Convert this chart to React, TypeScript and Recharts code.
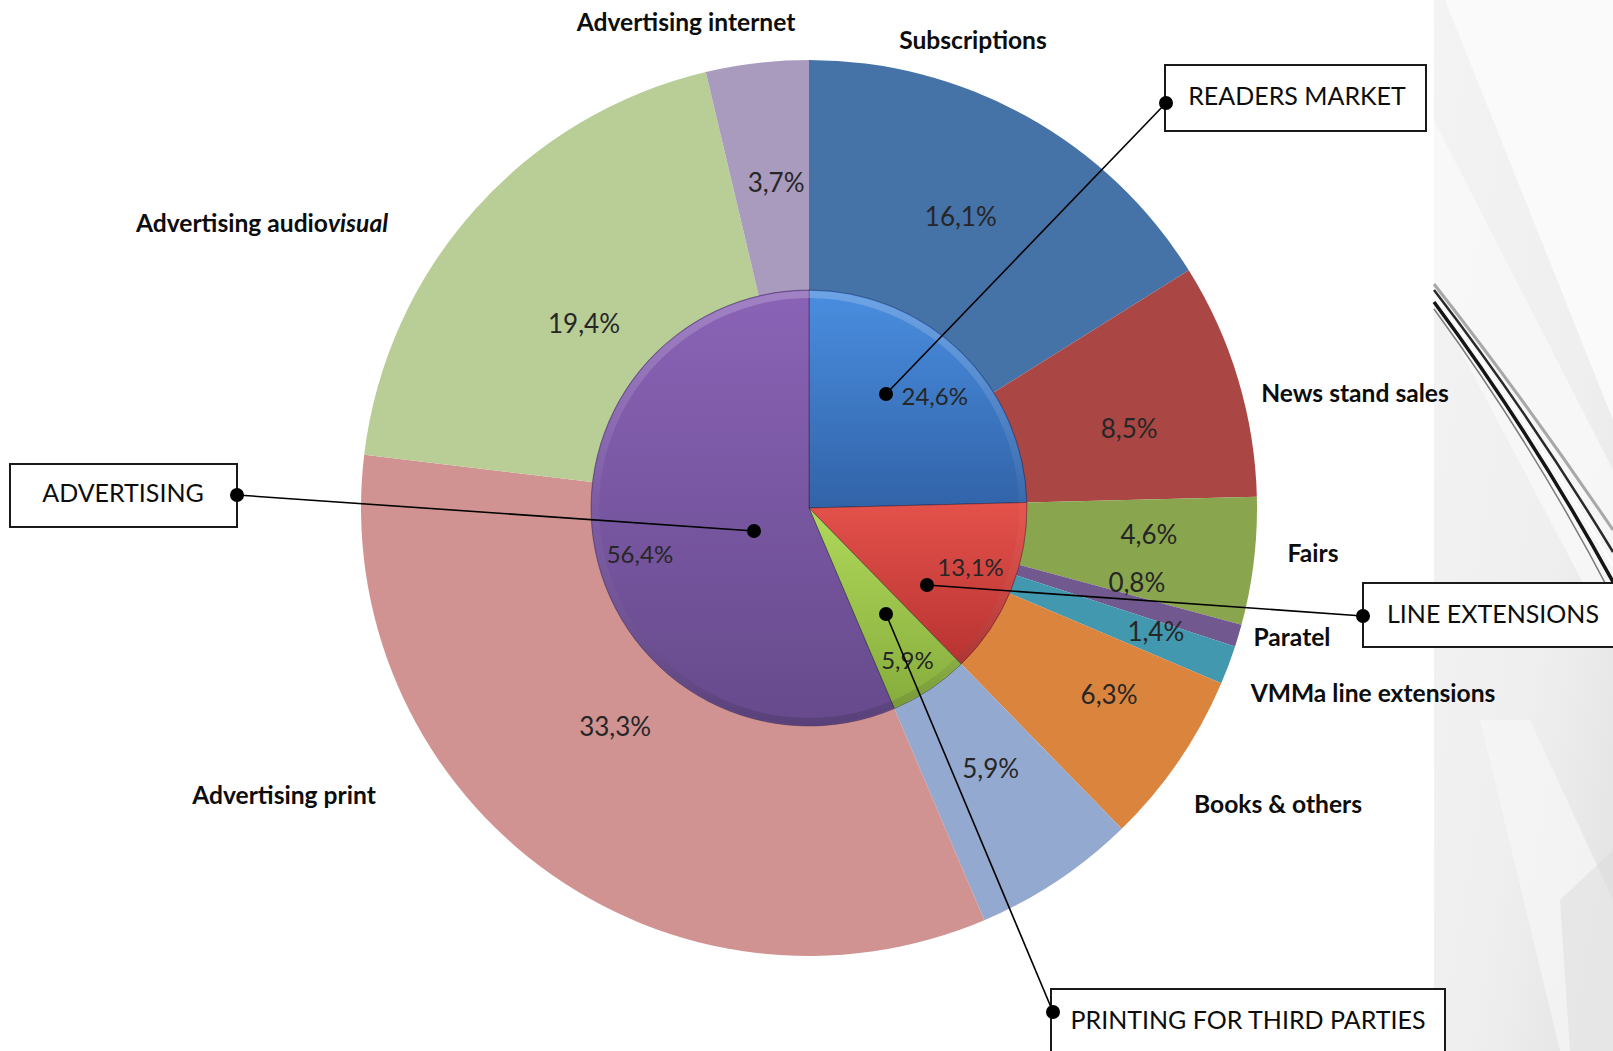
import React from 'react';
import { PieChart, Pie, Cell } from 'recharts';

// ---------- DATA ----------
const outerNames = [
  'Subscriptions',
  'News stand sales',
  'Fairs',
  'Paratel',
  'VMMa line extensions',
  'Books & others',
  'Printing for third parties',
  'Advertising print',
  'Advertising audiovisual',
  'Advertising internet',
];
const outerValues = [16.1, 8.5, 4.6, 0.8, 1.4, 6.3, 5.9, 33.3, 19.4, 3.7];

const innerNames = ['Readers market', 'Line extensions', 'Printing for third parties', 'Advertising'];
const innerValues = [24.6, 13.1, 5.9, 56.4];

const calloutTexts = ['READERS MARKET', 'ADVERTISING', 'LINE EXTENSIONS', 'PRINTING FOR THIRD PARTIES'];

// ---------- STYLE / LAYOUT ----------
const outerColors = ['#4572A7', '#AA4643', '#89A54E', '#71588F', '#4198AF', '#DB843D', '#93A9CF', '#D19392', '#B9CD96', '#A99BBD'];
const innerGradIds = ['gBlue', 'gRed', 'gGreen', 'gPurple'];

const W = 1613;
const H = 1051;
const CX = 809;
const CY = 508;
const R_OUT = 448;
const R_IN = 218;

// label radius and angle tweak (relative to the slice's mid angle)
const outerLabelAdj: [number, number][] = [
  [329, 1.5], [330, -2.7], [341, 2.4], [336, 3.9], [368, 1], [353, 2.6], [317, 1.3], [292, -4.7], [291, 2.4], [328, -0.9],
];
const innerLabelAdj: [number, number][] = [
  [169, -3.8], [172, 2.1], [181, -0.7], [175, 3.4],
];

// category label anchors (centre x, baseline y)
const categoryPos: Record<string, [number, number]> = {
  'Subscriptions': [973, 49],
  'News stand sales': [1355, 402],
  'Fairs': [1313, 562],
  'Paratel': [1292, 646],
  'VMMa line extensions': [1373, 702],
  'Books & others': [1278, 813],
  'Advertising print': [284, 804],
  'Advertising audiovisual': [262, 232],
  'Advertising internet': [686, 31],
};

// callouts: box [x, y, w, h], text [x, baseline], line from box dot to inner dot
const callouts = [
  { box: [1165, 65, 261, 66], text: [1297, 105], dotA: [1166, 103], dotB: [886, 394] },
  { box: [10, 464, 227, 63], text: [123, 502], dotA: [237, 495], dotB: [754, 531] },
  { box: [1363, 583, 270, 64], text: [1493, 623], dotA: [1363, 616], dotB: [927, 585] },
  { box: [1051, 989, 394, 80], text: [1248, 1029], dotA: [1053, 1012], dotB: [886, 614] },
];

const FONT = 'Lato, "Open Sans", sans-serif';
const RAD = Math.PI / 180;
const fmt = (v: number) => v.toFixed(1).replace('.', ',');

const outerData = outerNames.map((name, i) => ({ name, value: outerValues[i] }));
const innerData = innerNames.map((name, i) => ({ name, value: innerValues[i] }));

function makeLabel(adj: [number, number][], fontSize: number) {
  return (props: any) => {
    const { cx, cy, midAngle, index, value } = props;
    const [r, d] = adj[index] ?? [330, 0];
    const a = (midAngle + d) * RAD;
    const x = cx + r * Math.cos(a);
    const y = cy - r * Math.sin(a);
    return (
      <text
        key={`l-${index}`}
        x={x}
        y={y}
        textAnchor="middle"
        dominantBaseline="central"
        fill="#262626"
        fontSize={fontSize}
        fontFamily={FONT}
      >
        {fmt(Number(value))}%
      </text>
    );
  };
}

function Background() {
  return (
    <svg width={W} height={H} style={{ position: 'absolute', left: 0, top: 0 }}>
      <defs>
        <linearGradient id="panelGrad" x1="0" y1="0" x2="1" y2="1">
          <stop offset="0" stopColor="#f3f3f3" />
          <stop offset="0.6" stopColor="#efefef" />
          <stop offset="1" stopColor="#e2e2e2" />
        </linearGradient>
        <linearGradient id="gBlue" x1="0" y1="0" x2="0" y2="1">
          <stop offset="0" stopColor="#4a8ee0" />
          <stop offset="1" stopColor="#3163a8" />
        </linearGradient>
        <linearGradient id="gRed" x1="0" y1="0" x2="0" y2="1">
          <stop offset="0" stopColor="#e4514b" />
          <stop offset="1" stopColor="#b83331" />
        </linearGradient>
        <linearGradient id="gGreen" x1="0" y1="0" x2="0" y2="1">
          <stop offset="0" stopColor="#b0d85a" />
          <stop offset="1" stopColor="#86ad3c" />
        </linearGradient>
        <linearGradient id="gPurple" x1="0" y1="0" x2="0" y2="1">
          <stop offset="0" stopColor="#8a63b6" />
          <stop offset="1" stopColor="#664a8c" />
        </linearGradient>
        <linearGradient id="rimGrad" x1="0" y1="0" x2="0" y2="1">
          <stop offset="0" stopColor="#ffffff" stopOpacity="0.2" />
          <stop offset="0.5" stopColor="#ffffff" stopOpacity="0.03" />
          <stop offset="1" stopColor="#000000" stopOpacity="0.14" />
        </linearGradient>
      </defs>
      <rect x={1434} y={0} width={W - 1434} height={H} fill="url(#panelGrad)" />
      <polygon points="1445,0 1613,0 1613,420" fill="#fbfbfb" opacity={0.9} />
      <polygon points="1434,120 1434,300 1613,640 1613,470" fill="#f9f9f9" opacity={0.8} />
      <polygon points="1480,720 1530,720 1613,900 1613,1051 1560,1051" fill="#f7f7f7" opacity={0.7} />
      <polygon points="1560,900 1613,850 1613,1051 1570,1051" fill="#dcdcdc" opacity={0.5} />
      <path d="M1434,284 Q1525,400 1613,530" stroke="#a8a8a8" strokeWidth={3} fill="none" />
      <path d="M1434,290 Q1528,412 1613,552" stroke="#2a2a2a" strokeWidth={2.5} fill="none" />
      <path d="M1434,296 Q1530,422 1613,566" stroke="#ffffff" strokeWidth={2} fill="none" />
      <path d="M1434,302 Q1532,434 1613,582" stroke="#151515" strokeWidth={3.5} fill="none" />
      <path d="M1434,309 Q1535,447 1613,598" stroke="#7a7a7a" strokeWidth={1.5} fill="none" />
    </svg>
  );
}

function CategoryLabel({ name }: { name: string }) {
  const pos = categoryPos[name];
  if (!pos) return null;
  const common = {
    x: pos[0],
    y: pos[1],
    textAnchor: 'middle' as const,
    fontFamily: FONT,
    fontWeight: 700,
    fontSize: 24.6,
    fill: '#0d0d0d',
  };
  if (name === 'Advertising audiovisual') {
    return (
      <text {...common}>
        Advertising audio<tspan fontStyle="italic">visual</tspan>
      </text>
    );
  }
  return <text {...common}>{name}</text>;
}

function Overlay() {
  return (
    <svg width={W} height={H} style={{ position: 'absolute', left: 0, top: 0, pointerEvents: 'none' }}>
      {outerNames.map((n) => (
        <CategoryLabel key={n} name={n} />
      ))}
      {callouts.map((c, i) => (
        <g key={i}>
          <rect x={c.box[0]} y={c.box[1]} width={c.box[2]} height={c.box[3]} fill="#fff" stroke="#1a1a1a" strokeWidth={2} />
          <text x={c.text[0]} y={c.text[1]} textAnchor="middle" fontFamily={FONT} fontSize={25} fill="#0d0d0d">
            {calloutTexts[i]}
          </text>
          <line x1={c.dotA[0]} y1={c.dotA[1]} x2={c.dotB[0]} y2={c.dotB[1]} stroke="#000" strokeWidth={1.6} />
          <circle cx={c.dotA[0]} cy={c.dotA[1]} r={7} fill="#000" />
          <circle cx={c.dotB[0]} cy={c.dotB[1]} r={7} fill="#000" />
        </g>
      ))}
    </svg>
  );
}

export default function App() {
  return (
    <div style={{ position: 'absolute', left: 0, top: 0, width: W, height: H, overflow: 'hidden', background: '#fff' }}>
      <Background />
      <div style={{ position: 'absolute', left: 0, top: 0 }}>
        <PieChart width={W} height={H} margin={{ top: 0, right: 0, bottom: 0, left: 0 }}>
          <Pie
            data={outerData}
            dataKey="value"
            nameKey="name"
            cx={CX}
            cy={CY}
            outerRadius={R_OUT}
            innerRadius={0}
            startAngle={90}
            endAngle={-270}
            stroke="none"
            label={makeLabel(outerLabelAdj, 26)}
            labelLine={false}
            isAnimationActive={false}
          >
            {outerData.map((d, i) => (
              <Cell key={d.name} fill={outerColors[i]} stroke="none" />
            ))}
          </Pie>
          <Pie
            data={innerData}
            dataKey="value"
            nameKey="name"
            cx={CX}
            cy={CY}
            outerRadius={R_IN}
            innerRadius={0}
            startAngle={90}
            endAngle={-270}
            stroke="rgba(30,20,50,0.4)"
            strokeWidth={1}
            labelLine={false}
            isAnimationActive={false}
          >
            {innerData.map((d, i) => (
              <Cell key={d.name} fill={`url(#${innerGradIds[i]})`} />
            ))}
          </Pie>
          <Pie
            data={[{ name: 'rim', value: 1 }]}
            dataKey="value"
            cx={CX}
            cy={CY}
            outerRadius={R_IN - 1}
            innerRadius={R_IN - 8}
            startAngle={90}
            endAngle={-270}
            stroke="none"
            fill="url(#rimGrad)"
            label={false}
            labelLine={false}
            isAnimationActive={false}
          />
          <Pie
            data={innerData}
            dataKey="value"
            nameKey="name"
            cx={CX}
            cy={CY}
            outerRadius={R_IN}
            innerRadius={0}
            startAngle={90}
            endAngle={-270}
            fill="none"
            stroke="none"
            label={makeLabel(innerLabelAdj, 24)}
            labelLine={false}
            isAnimationActive={false}
          />
        </PieChart>
      </div>
      <Overlay />
    </div>
  );
}
